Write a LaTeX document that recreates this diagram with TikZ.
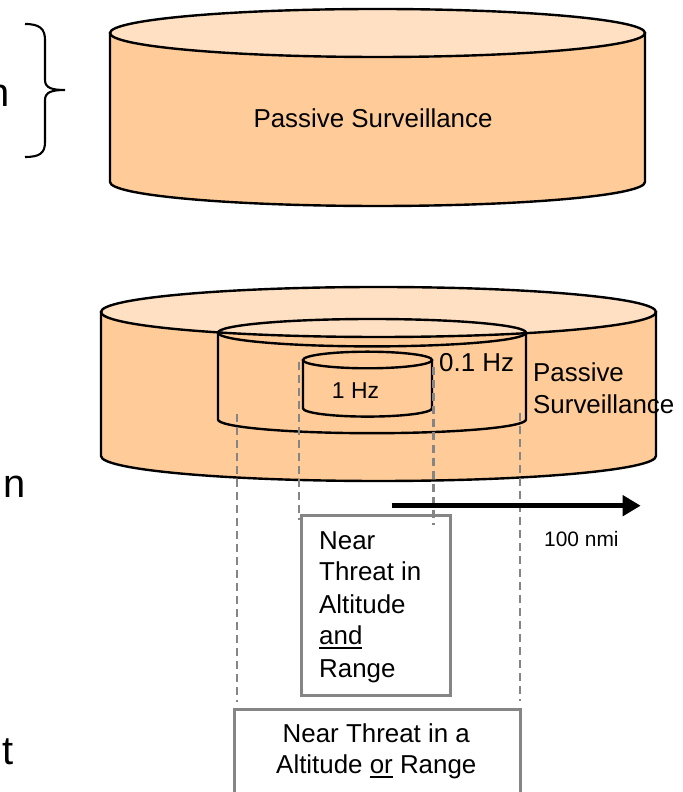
\documentclass[tikz,border=0pt]{standalone}
\usepackage{fontspec}
\setmainfont{Liberation Sans}
\usetikzlibrary{arrows.meta}
\definecolor{canbody}{HTML}{FFCC99}
\definecolor{cantop}{HTML}{FFE0C2}
\definecolor{guidegray}{HTML}{858585}
\newcommand\myul[1]{\setbox0\hbox{#1}\rlap{\rule[-4.3bp]{\wd0}{1.8bp}}\box0\relax}
\begin{document}
\begin{tikzpicture}[x=1bp,y=1bp,
  outline/.style={draw=black,line width=2.4bp},
  guide/.style={draw=guidegray,line width=2.4bp,dash pattern=on 8bp off 5bp},
  graybox/.style={draw=guidegray,line width=2.7bp,inner sep=0pt},
  lbl/.style={inner sep=0pt,font=\fontsize{26}{31.8}\selectfont},
  smalllbl/.style={inner sep=0pt,font=\fontsize{23}{28}\selectfont},
  tinylbl/.style={inner sep=0pt,font=\fontsize{21}{26}\selectfont},
  frag/.style={inner sep=0pt,font=\fontsize{40}{48}\selectfont}]
\useasboundingbox (0,0) rectangle (683,792);

% left cut-off fragments
\node[frag,anchor=base east] (fragA) at (9.6,685) {n};
\node[frag,anchor=base east] (fragB) at (25.6,294) {n};
\node[frag,anchor=base east] (fragC) at (14,27) {t};

% brace
\draw[line width=2.1bp] (25,768) .. controls (40,768) and (45,763) .. (45,752)
  -- (45,712) .. controls (45,704) and (52,702) .. (65,702)
  .. controls (52,702) and (45,700) .. (45,692)
  -- (45,650) .. controls (45,639) and (40,635) .. (25,635);

% top cylinder
\filldraw[outline,fill=canbody] (110,759) -- (110,610)
  arc[start angle=180,end angle=360,x radius=267.5bp,y radius=24bp] -- (645,759) -- cycle;
\filldraw[outline,fill=cantop] (377.5,759) ellipse[x radius=267.5bp,y radius=24bp];
\node[lbl,anchor=base] (toplabel) at (373,664) {Passive Surveillance};

% lower cylinder
\filldraw[outline,fill=canbody] (101,480) -- (101,336)
  arc[start angle=180,end angle=360,x radius=277.5bp,y radius=25bp] -- (656,480) -- cycle;
\filldraw[outline,fill=cantop] (378.5,480) ellipse[x radius=277.5bp,y radius=25bp];

% middle cylinder (outline)
\draw[outline] (218,459.3) -- (218,372.5)
  arc[start angle=180,end angle=360,x radius=154bp,y radius=13.7bp] -- (526,459.3);
\draw[outline] (372,459.3) ellipse[x radius=154bp,y radius=13.7bp];

% small cylinder (outline)
\draw[outline] (303,432) -- (303,383.7)
  arc[start angle=180,end angle=360,x radius=64.5bp,y radius=8.3bp] -- (432,432);
\draw[outline] (367.5,432) ellipse[x radius=64.5bp,y radius=8.3bp];

\node[smalllbl,anchor=base] (onehz) at (355.5,393.7) {1 Hz};
\node[lbl,anchor=base west] (ptonehz) at (439,420.3) {0.1 Hz};
\node[lbl,anchor=base west] (passA) at (533,410.3) {Passive};
\node[lbl,anchor=base west] (passB) at (533,378.7) {Surveillance};

% guide lines
\coordinate (gA1) at (236.7,378);   \coordinate (gA2) at (236.7,90.3);
\coordinate (gB1) at (299,430.3);   \coordinate (gB2) at (299,272);
\coordinate (gC1) at (433.5,425.3); \coordinate (gC2) at (433.5,267);
\coordinate (gD1) at (520,379);     \coordinate (gD2) at (520,91);
\draw[guide] (gA1) -- (gA2);
\draw[guide] (gB1) -- (gB2);
\draw[guide] (gC1) -- (gC2);
\draw[guide] (gD1) -- (gD2);

% boxes
\node[graybox,anchor=north west,minimum width=149.3bp,minimum height=180bp] (boxand) at (300,278) {};
\node[graybox,anchor=north west,minimum width=286.1bp,minimum height=110bp] (boxor) at (233.3,83.7) {};

% range arrow
\coordinate (arrS) at (391.7,286.3);
\coordinate (arrE) at (640.7,286.3);
\draw[line width=5bp,-{Triangle[length=18bp,width=20bp]}] (arrS) -- (arrE);
\node[tinylbl,anchor=base west] (nmi) at (544,245.3) {100 nmi};

% box texts
\node[lbl,anchor=base west] (tand1) at (319,242) {Near};
\node[lbl,anchor=base west] (tand2) at (319,211.3) {Threat in};
\node[lbl,anchor=base west] (tand3) at (319,178.7) {Altitude};
\node[lbl,anchor=base west] (tand4) at (319,147) {\myul{and}};
\node[lbl,anchor=base west] (tand5) at (319,114.7) {Range};
\node[lbl,anchor=base] (tor1) at (376.3,49.3) {Near Threat in a};
\node[lbl,anchor=base] (tor2) at (376.3,18.7) {Altitude \myul{or} Range};
\end{tikzpicture}
\end{document}
